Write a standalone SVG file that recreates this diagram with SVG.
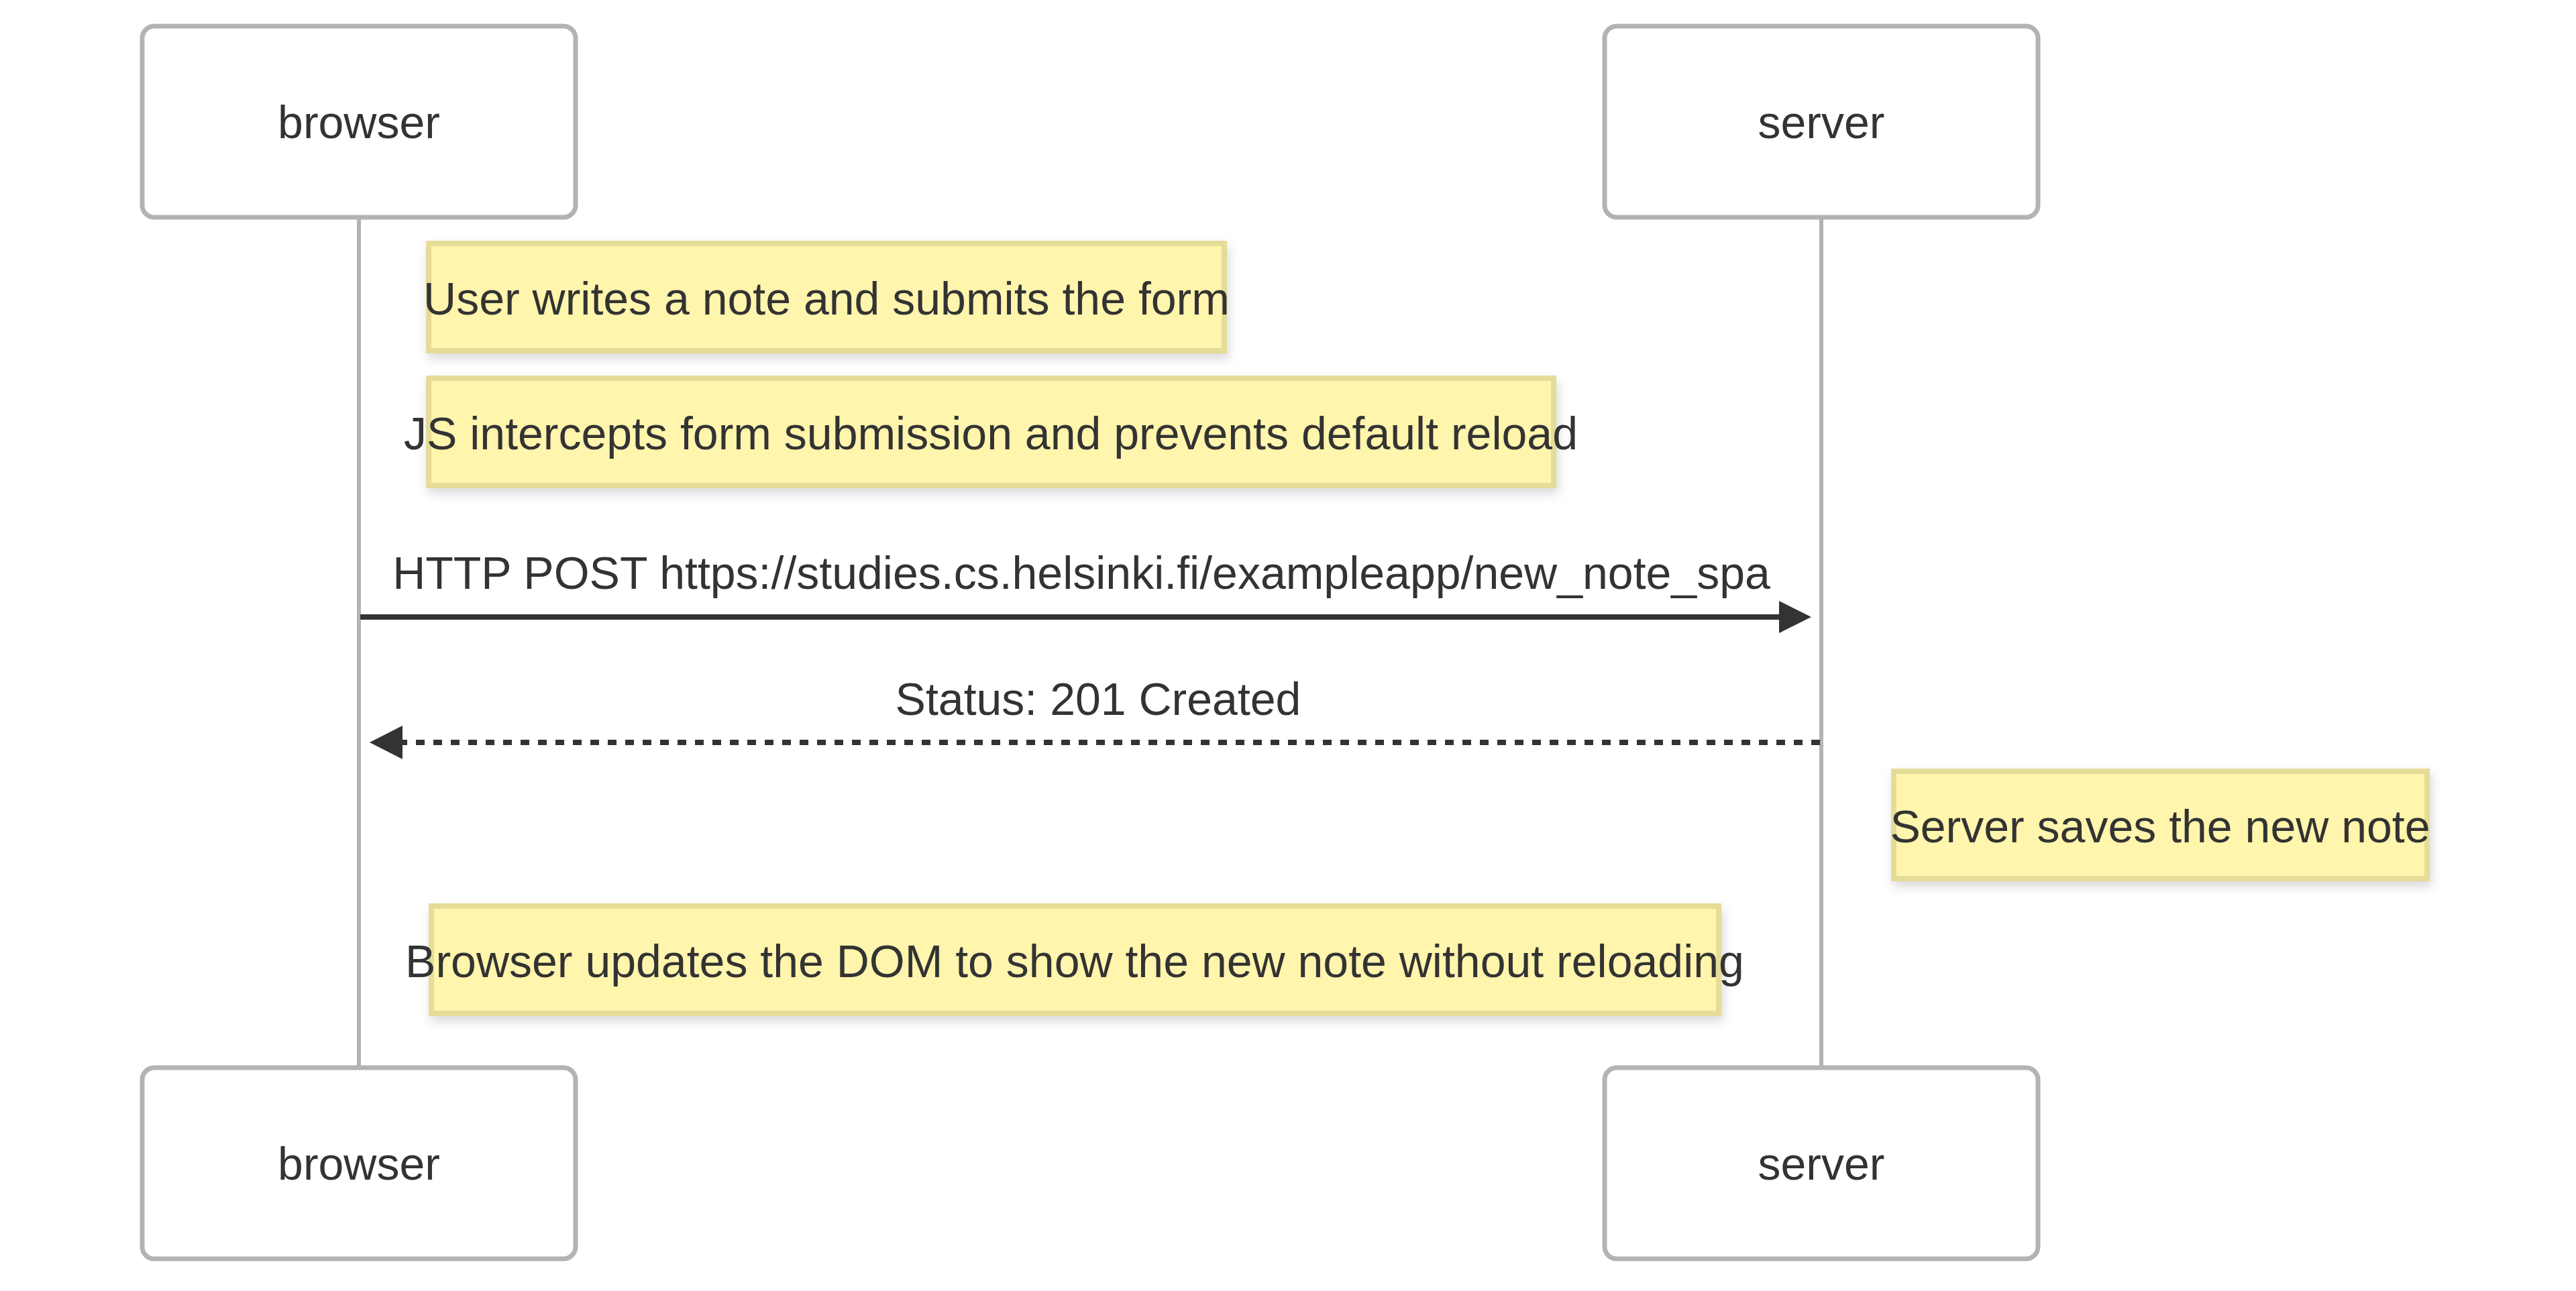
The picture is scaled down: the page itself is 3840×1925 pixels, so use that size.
<svg xmlns="http://www.w3.org/2000/svg" width="3840" height="1925" viewBox="0 0 3840 1925">
<style>
.actor{fill:#ffffff;stroke:#b3b3b3;stroke-width:7}
.atext{font-family:"Liberation Sans",Arial,sans-serif;font-size:68px;fill:#333333;text-anchor:middle}
.note{fill:#fff5ad;stroke:#e5dc97;stroke-width:8;filter:url(#sh)}
.ntext{font-family:"Liberation Sans",Arial,sans-serif;font-size:68px;fill:#333333;text-anchor:middle}
.life{stroke:#b3b3b3;stroke-width:6;fill:none}
.msg{stroke:#333333;stroke-width:8;fill:none}
.dash{stroke-dasharray:13,13}
.head{fill:#333333}
</style>
<defs>
<filter id="sh" x="-10%" y="-30%" width="120%" height="170%">
<feDropShadow dx="3" dy="8" stdDeviation="8" flood-color="#000" flood-opacity="0.15"/>
</filter>
</defs>
<rect width="3840" height="1925" fill="#ffffff"/>
<g id="lifelines">
<line class="life" x1="535" y1="324" x2="535" y2="1592"/>
<line class="life" x1="2715" y1="324" x2="2715" y2="1592"/>
</g>
<g id="actor-browser-top"><rect class="actor" x="212" y="39" width="646" height="285" rx="18"/><text class="atext" x="535" y="206">browser</text></g>
<g id="actor-server-top"><rect class="actor" x="2392" y="39" width="646" height="285" rx="18"/><text class="atext" x="2715" y="206">server</text></g>
<g id="actor-browser-bottom"><rect class="actor" x="212" y="1592" width="646" height="285" rx="18"/><text class="atext" x="535" y="1759">browser</text></g>
<g id="actor-server-bottom"><rect class="actor" x="2392" y="1592" width="646" height="285" rx="18"/><text class="atext" x="2715" y="1759">server</text></g>
<g id="note1"><rect class="note" x="639" y="363" width="1186" height="160"/><text class="ntext" x="1232" y="469">User writes a note and submits the form</text></g>
<g id="note2"><rect class="note" x="639" y="564" width="1677" height="160"/><text class="ntext" x="1477" y="670">JS intercepts form submission and prevents default reload</text></g>
<g id="note3"><rect class="note" x="2823" y="1150" width="795" height="160"/><text class="ntext" x="3220" y="1256">Server saves the new note</text></g>
<g id="note4"><rect class="note" x="643" y="1351" width="1919" height="160"/><text class="ntext" x="1602" y="1457">Browser updates the DOM to show the new note without reloading</text></g>
<g id="connectors">
<line class="msg" x1="537" y1="920" x2="2656" y2="920"/>
<polygon class="head" points="2652,896 2700,920 2652,944"/>
<text class="ntext" x="1612" y="878">HTTP POST https://studies.cs.helsinki.fi/exampleapp/new_note_spa</text>
<line class="msg dash" x1="2713" y1="1107" x2="596" y2="1107"/>
<polygon class="head" points="600,1082 551,1107 600,1132"/>
<text class="ntext" x="1637" y="1066">Status: 201 Created</text>
</g>
</svg>
